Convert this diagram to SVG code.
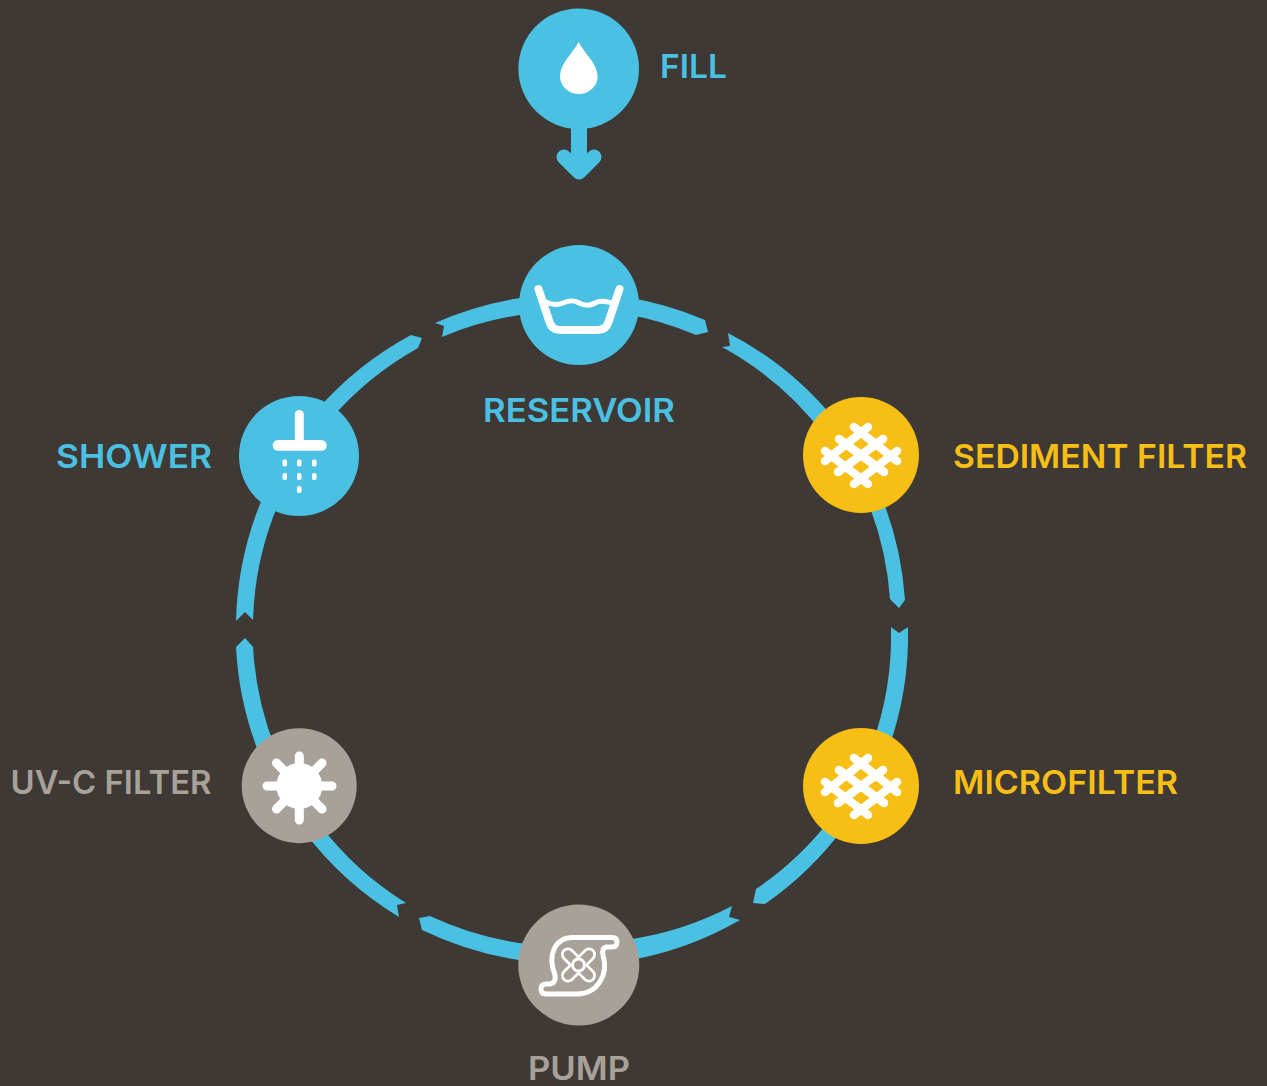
<svg xmlns="http://www.w3.org/2000/svg" width="1267" height="1086" viewBox="0 0 1267 1086">
<style>
.t{font-family:Inter,"Liberation Sans",sans-serif;font-size:33px;font-weight:600}
.b{fill:#4ac1e2}.y{fill:#f7be16}.g{fill:#a8a199}
.seg{fill:#4ac1e2;stroke:none}
.w{fill:none;stroke:#fff;stroke-linecap:round;stroke-linejoin:round}
.wf{fill:#fff}
</style>
<defs>
<g id="mesh" class="w" stroke-width="8.500">
<path d="M854 427L897 461M839 439L884 472M825 451L868 484M868 427L825 461M883 439L838 472M897 451L854 484"/>
</g>
</defs>
<rect width="1267" height="1086" fill="#3e3935"/>
<g id="connectors">
<path class="seg" d="M625 297A338 338 0 0 1 705 320L708 332L696 335A322 322 0 0 0 625 314Z"/>
<path class="seg" d="M728 333A338 338 0 0 1 835 420L825 436A322 322 0 0 0 722 347L730 346Z"/>
<path class="seg" d="M882 498A338 338 0 0 1 905 600L899 608L890 599A322 322 0 0 0 867 500Z"/>
<path class="seg" d="M908 627A338 338 0 0 1 888 750L872 745A322 322 0 0 0 891 627L899 633Z"/>
<path class="seg" d="M845 826A338 338 0 0 1 765 904L753 903L756 889A322 322 0 0 0 832 817Z"/>
<path class="seg" d="M740 920A338 338 0 0 1 625 961L625 940A322 322 0 0 0 732 906L729 917Z"/>
<path class="seg" d="M535 962A338 338 0 0 1 422 930L419 918L430 916A322 322 0 0 0 535 945Z"/>
<path class="seg" d="M399 917A338 338 0 0 1 303 830L320 825A322 322 0 0 0 406 903L397 905Z"/>
<path class="seg" d="M260 756A338 338 0 0 1 236 647L245 638L253 647A322 322 0 0 0 276 750Z"/>
<path class="seg" d="M236 621A338 338 0 0 1 266 490L280 500A322 322 0 0 0 253 620L245 612Z"/>
<path class="seg" d="M317 410A338 338 0 0 1 411 335L422 338L418 348A322 322 0 0 0 330 420Z"/>
<path class="seg" d="M435 323A338 338 0 0 1 535 296L535 313A322 322 0 0 0 442 337L444 326Z"/>
<path class="seg" d="M571 120H587V165H571Z"/>
<path d="M564 157L579 172L594 157" fill="none" stroke="#4ac1e2" stroke-width="15" stroke-linecap="round" stroke-linejoin="round"/>
</g>
<g id="fill">
<circle class="b" cx="578.700" cy="68.700" r="60.300"/>
<path class="wf" d="M578.700 42C572 54 560 64 560 76.500A18.800 17.500 0 0 0 597.600 76.500C597.600 64 585 54 578.700 42Z"/>
<text class="t b" x="660" y="78" textLength="67" lengthAdjust="spacingAndGlyphs">FILL</text>
</g>
<g id="reservoir">
<circle class="b" cx="579" cy="305" r="60"/>
<path class="w" stroke-width="8" d="M538.500 289L549.500 322Q552 330 560 330H598Q606 330 608.500 322L619.500 289"/>
<path class="w" stroke-width="5" d="M546 302C552 305 558 305 563 303C570 300 574 300 579 303C585 306 590 306 595 303C600 300 606 301 612 303"/>
<text class="t b" x="483" y="422" textLength="192" lengthAdjust="spacingAndGlyphs">RESERVOIR</text>
</g>
<g id="sediment-filter">
<circle class="y" cx="861" cy="455" r="58"/>
<use href="#mesh"/>
<text class="t y" x="953" y="468" textLength="294" lengthAdjust="spacingAndGlyphs">SEDIMENT FILTER</text>
</g>
<g id="microfilter">
<circle class="y" cx="861" cy="786" r="58"/>
<use href="#mesh" y="331"/>
<text class="t y" x="953" y="794" textLength="225" lengthAdjust="spacingAndGlyphs">MICROFILTER</text>
</g>
<g id="pump">
<circle class="g" cx="578.800" cy="965" r="60.500"/>
<path class="w" stroke-width="5" d="M573 937.500H612Q617 937.500 617 942Q617 947 612 947H607C603 947 602 951 603 955C609 975 597 994 577 994H546Q541 994 541 989Q541 984 546 984H549C554 984 556 980 555 975C547 955 555 937.500 573 937.500Z"/>
<path d="M568 954.500L589 975.500M589 954.500L568 975.500" fill="none" stroke="#fff" stroke-width="14" stroke-linecap="round"/>
<path d="M568 954.500L589 975.500M589 954.500L568 975.500" fill="none" stroke="#a8a199" stroke-width="8.500" stroke-linecap="round"/>
<circle cx="578.500" cy="965" r="6" fill="#a8a199" stroke="#fff" stroke-width="3"/>
<text class="t g" x="528" y="1080" textLength="102" lengthAdjust="spacingAndGlyphs">PUMP</text>
</g>
<g id="uv-c-filter">
<circle class="g" cx="299.200" cy="785.700" r="57.500"/>
<circle class="wf" cx="299.300" cy="786" r="23"/>
<path class="w" stroke-width="9" d="M267 786H332M299.300 756V820M276.500 763L322 809M322 763L276.500 809"/>
<text class="t g" x="10.500" y="794" textLength="201" lengthAdjust="spacingAndGlyphs">UV-C FILTER</text>
</g>
<g id="shower">
<circle class="b" cx="299" cy="456" r="60"/>
<path class="wf" d="M294.800 414.500a4.500 4.500 0 0 1 9 0V441H294.800Z"/>
<rect class="wf" x="272.700" y="440" width="54" height="10.700" rx="5.300"/>
<g class="wf">
<rect x="282.500" y="459.500" width="4.500" height="7" rx="1.800"/><rect x="297" y="459.500" width="4.500" height="7" rx="1.800"/><rect x="312" y="459.500" width="4.500" height="7" rx="1.800"/>
<rect x="282.500" y="473" width="4.500" height="7" rx="1.800"/><rect x="297" y="473" width="4.500" height="7" rx="1.800"/><rect x="312" y="473" width="4.500" height="7" rx="1.800"/>
<rect x="297" y="486" width="4.500" height="7" rx="1.800"/>
</g>
<text class="t b" x="56" y="468" textLength="156" lengthAdjust="spacingAndGlyphs">SHOWER</text>
</g>
</svg>
